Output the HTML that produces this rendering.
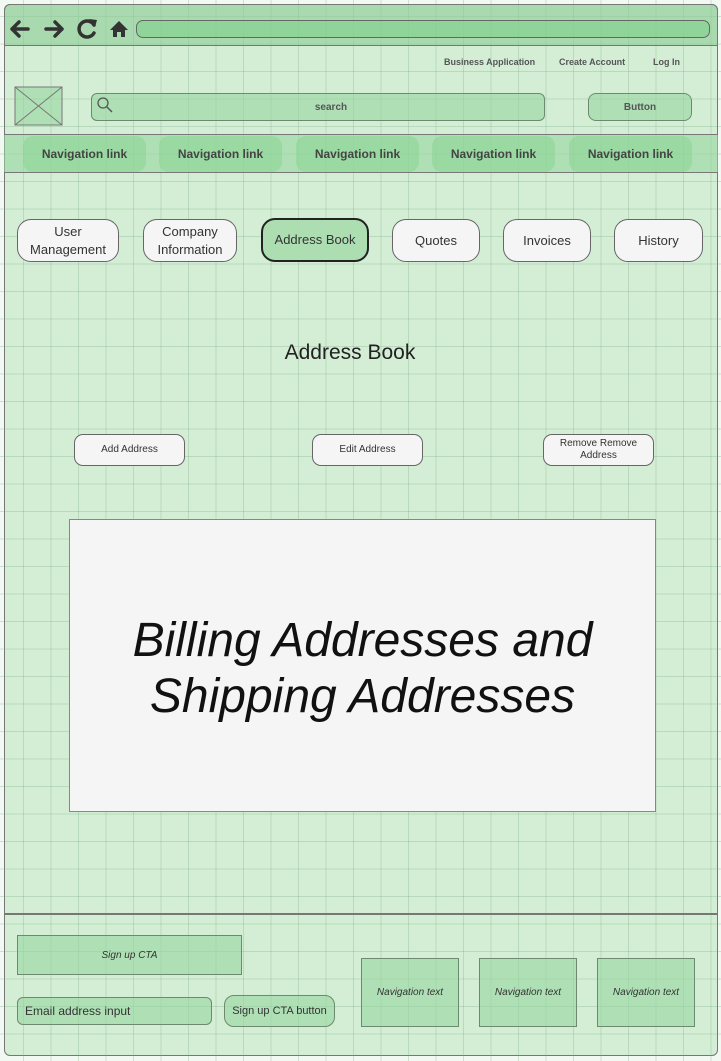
<!DOCTYPE html>
<html><head><meta charset="utf-8"><style>
*{box-sizing:border-box;margin:0;padding:0}
body{width:721px;height:1061px;position:relative;overflow:hidden;font-family:"Liberation Sans",sans-serif;color:#333;
background-color:#f2f8f2;}
.frame{position:absolute;left:4px;top:4px;width:714px;height:1052px;border:1.5px solid #777;border-radius:6px;background:#d4eed6}
.grid{position:absolute;left:0;top:0;width:721px;height:1061px;pointer-events:none;
background-image:linear-gradient(to right,rgba(120,170,125,.3) 1px,transparent 1px),linear-gradient(to bottom,rgba(120,170,125,.3) 1px,transparent 1px);
background-size:27.5px 27.5px;background-position:23px 16px}
.a{position:absolute;display:flex;align-items:center;justify-content:center;text-align:center}
.g{background:rgba(150,215,158,.6);border:1.3px solid #6b8a6e}
.w{background:#f5f5f5;border:1.3px solid #666;border-radius:14px;font-size:13px;color:#333;line-height:18px}
.n{background:rgba(140,212,150,.6);border-radius:10px;font-size:12px;font-weight:bold;color:#444}
</style></head><body>
<div class="frame"></div>
<div class="grid"></div>
<div class="a" style="left:4px;top:4px;width:714px;height:42px;background:rgba(140,205,148,.6);border:1.5px solid #777;border-radius:6px 6px 0 0"></div>
<div class="a" style="left:136px;top:20px;width:574px;height:18px;background:rgba(130,208,140,.6);border:1.3px solid #666;border-radius:7px"></div>
<svg class="a" style="left:0;top:0" width="140" height="46">
<g stroke="#333" stroke-width="3.5" fill="none" stroke-linecap="round" stroke-linejoin="round">
<path d="M28 29H12M19 22L12 29L19 36"/>
<path d="M46 29H62M55 22L62 29L55 36"/>
<path d="M94 25A8 8 0 1 0 94 33"/>
</g>
<path d="M89 19L97 20L95 27Z" fill="#333"/>
<path d="M110 30L119 21L128 30H125V37H121V32H117V37H113V30Z" fill="#333"/>
</svg>
<div class="a" style="left:444px;top:57px;font-size:9px;font-weight:bold;color:#555">Business Application</div>
<div class="a" style="left:559px;top:57px;font-size:9px;font-weight:bold;color:#555">Create Account</div>
<div class="a" style="left:653px;top:57px;font-size:9px;font-weight:bold;color:#555">Log In</div>
<svg class="a" style="left:14px;top:86px" width="50" height="41"><rect x="1" y="1" width="47" height="38" fill="rgba(150,215,158,.6)" stroke="#777"/><path d="M1 1L48 39M48 1L1 39" stroke="#777"/></svg>
<div class="a g" style="left:91px;top:93px;width:454px;height:28px;border-radius:6px;font-size:10px;font-weight:bold;color:#555;padding-left:26px">search</div>
<svg class="a" style="left:96px;top:96px" width="20" height="20"><circle cx="7" cy="7" r="5" fill="none" stroke="#555" stroke-width="1.3"/><path d="M11 11L16 16" stroke="#555" stroke-width="1.5"/></svg>
<div class="a g" style="left:588px;top:93px;width:104px;height:28px;border-radius:8px;font-size:10px;font-weight:bold;color:#555">Button</div>
<div class="a" style="left:4px;top:134px;width:714px;height:39px;background:rgba(150,215,158,.6);border-top:1.3px solid #777;border-bottom:1.3px solid #777"></div>
<div class="a n" style="left:23px;top:136px;width:123px;height:36px">Navigation link</div>
<div class="a n" style="left:159px;top:136px;width:123px;height:36px">Navigation link</div>
<div class="a n" style="left:296px;top:136px;width:123px;height:36px">Navigation link</div>
<div class="a n" style="left:432px;top:136px;width:123px;height:36px">Navigation link</div>
<div class="a n" style="left:569px;top:136px;width:123px;height:36px">Navigation link</div>
<div class="a w" style="left:17px;top:219px;width:102px;height:43px">User<br>Management</div>
<div class="a w" style="left:143px;top:219px;width:94px;height:43px">Company<br>Information</div>
<div class="a w" style="left:261px;top:218px;width:108px;height:44px;background:#acdeb2;border:2px solid #222">Address Book</div>
<div class="a w" style="left:392px;top:219px;width:88px;height:43px">Quotes</div>
<div class="a w" style="left:503px;top:219px;width:88px;height:43px">Invoices</div>
<div class="a w" style="left:614px;top:219px;width:89px;height:43px">History</div>
<div class="a" style="left:200px;top:339px;width:300px;height:28px;font-size:21px;color:#222">Address Book</div>
<div class="a w" style="left:74px;top:434px;width:111px;height:32px;border-radius:9px;font-size:10px">Add Address</div>
<div class="a w" style="left:312px;top:434px;width:111px;height:32px;border-radius:9px;font-size:10px">Edit Address</div>
<div class="a w" style="left:543px;top:434px;width:111px;height:32px;border-radius:9px;font-size:10px;line-height:12px">Remove Remove<br>Address</div>
<div class="a" style="left:69px;top:519px;width:587px;height:293px;background:#f5f5f5;border:1.3px solid #888;font-size:48px;font-style:italic;color:#111;line-height:56px;padding-top:6px">Billing Addresses and<br>Shipping Addresses</div>
<div class="a" style="left:4px;top:913px;width:714px;height:1.5px;background:#777"></div>
<div class="a g" style="left:17px;top:935px;width:225px;height:40px;font-size:10px;font-style:italic;color:#333">Sign up CTA</div>
<div class="a g" style="left:17px;top:997px;width:195px;height:28px;border-radius:6px;font-size:12px;color:#333;justify-content:flex-start;padding-left:7px">Email address input</div>
<div class="a g" style="left:224px;top:995px;width:111px;height:32px;border-radius:10px;font-size:11px;color:#333">Sign up CTA button</div>
<div class="a g" style="left:361px;top:958px;width:98px;height:69px;font-size:10px;font-style:italic;color:#333">Navigation text</div>
<div class="a g" style="left:479px;top:958px;width:98px;height:69px;font-size:10px;font-style:italic;color:#333">Navigation text</div>
<div class="a g" style="left:597px;top:958px;width:98px;height:69px;font-size:10px;font-style:italic;color:#333">Navigation text</div>
</body></html>
